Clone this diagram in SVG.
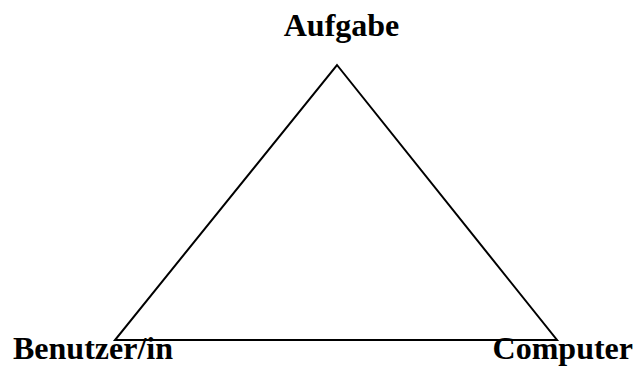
<svg xmlns="http://www.w3.org/2000/svg" width="634" height="367" viewBox="0 0 634 367">
<style>
.lbl{font-family:"Liberation Serif","Times New Roman",serif;font-weight:bold;font-size:32px;fill:#000}
.edge{stroke:#000;stroke-width:2;fill:none;stroke-linejoin:miter}
</style>
<rect width="634" height="367" fill="#fff"/>
<g id="connectors">
<polygon class="edge" points="337,65 557,340 115,340"/>
</g>
<g id="node-aufgabe"><text class="lbl" x="341.5" y="36" text-anchor="middle">Aufgabe</text></g>
<g id="node-benutzer"><text class="lbl" x="13" y="359">Benutzer/in</text></g>
<g id="node-computer"><text class="lbl" x="633" y="359" text-anchor="end">Computer</text></g>
</svg>
